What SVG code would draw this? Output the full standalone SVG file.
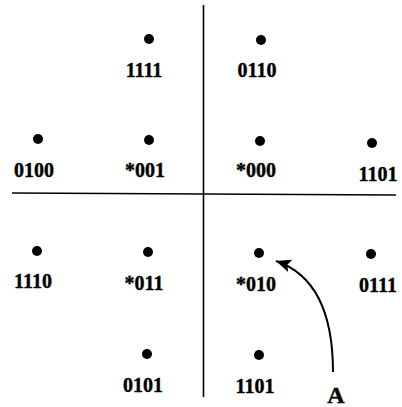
<svg xmlns="http://www.w3.org/2000/svg" width="402" height="407" viewBox="0 0 402 407">
<style>
.dot{fill:#000}
.lbl{font-family:"Liberation Serif","Times New Roman",serif;font-weight:bold;font-size:20px;fill:#000;stroke:#000;stroke-width:0.4;text-anchor:middle}
.axis{stroke:#000;stroke-width:1.6;fill:none}
.arr{stroke:#000;stroke-width:2;fill:none}
</style>
<defs>
<marker id="ah" markerUnits="userSpaceOnUse" markerWidth="16" markerHeight="14" refX="15" refY="6.5" orient="auto">
<path d="M0,0 L15,6.5 L0,13 L3,6.5 Z" fill="#000"/>
</marker>
</defs>
<g id="axes">
<line class="axis" x1="203.5" y1="5" x2="203.5" y2="397"/>
<line class="axis" x1="12" y1="193" x2="396" y2="195"/>
</g>
<g id="n1111"><circle class="dot" cx="149" cy="39" r="5"/><text class="lbl" x="144" y="77">1111</text></g>
<g id="n0110"><circle class="dot" cx="261" cy="40" r="5"/><text class="lbl" x="257" y="77">0110</text></g>
<g id="n0100"><circle class="dot" cx="38" cy="139" r="5"/><text class="lbl" x="34" y="177">0100</text></g>
<g id="n001"><circle class="dot" cx="149" cy="140" r="5"/><text class="lbl" x="145" y="177">*001</text></g>
<g id="n000"><circle class="dot" cx="260" cy="141" r="5"/><text class="lbl" x="256" y="177">*000</text></g>
<g id="n1101a"><circle class="dot" cx="372" cy="143" r="5"/><text class="lbl" x="378" y="181">1101</text></g>
<g id="n1110"><circle class="dot" cx="37" cy="251" r="5"/><text class="lbl" x="33" y="288">1110</text></g>
<g id="n011"><circle class="dot" cx="148" cy="252" r="5"/><text class="lbl" x="144" y="290">*011</text></g>
<g id="n010"><circle class="dot" cx="259" cy="253" r="5"/><text class="lbl" x="256" y="291">*010</text></g>
<g id="n0111"><circle class="dot" cx="371" cy="254" r="5"/><text class="lbl" x="378" y="292">0111</text></g>
<g id="n0101"><circle class="dot" cx="147" cy="354" r="5"/><text class="lbl" x="143" y="392">0101</text></g>
<g id="n1101b"><circle class="dot" cx="259" cy="355" r="5"/><text class="lbl" x="255" y="393">1101</text></g>
<g id="connectors">
<path class="arr" d="M333,372 C333,322 320,276 276,261" marker-end="url(#ah)"/>
</g>
<g id="labelA"><text class="lbl" x="336" y="403" style="font-size:24px">A</text></g>
</svg>
